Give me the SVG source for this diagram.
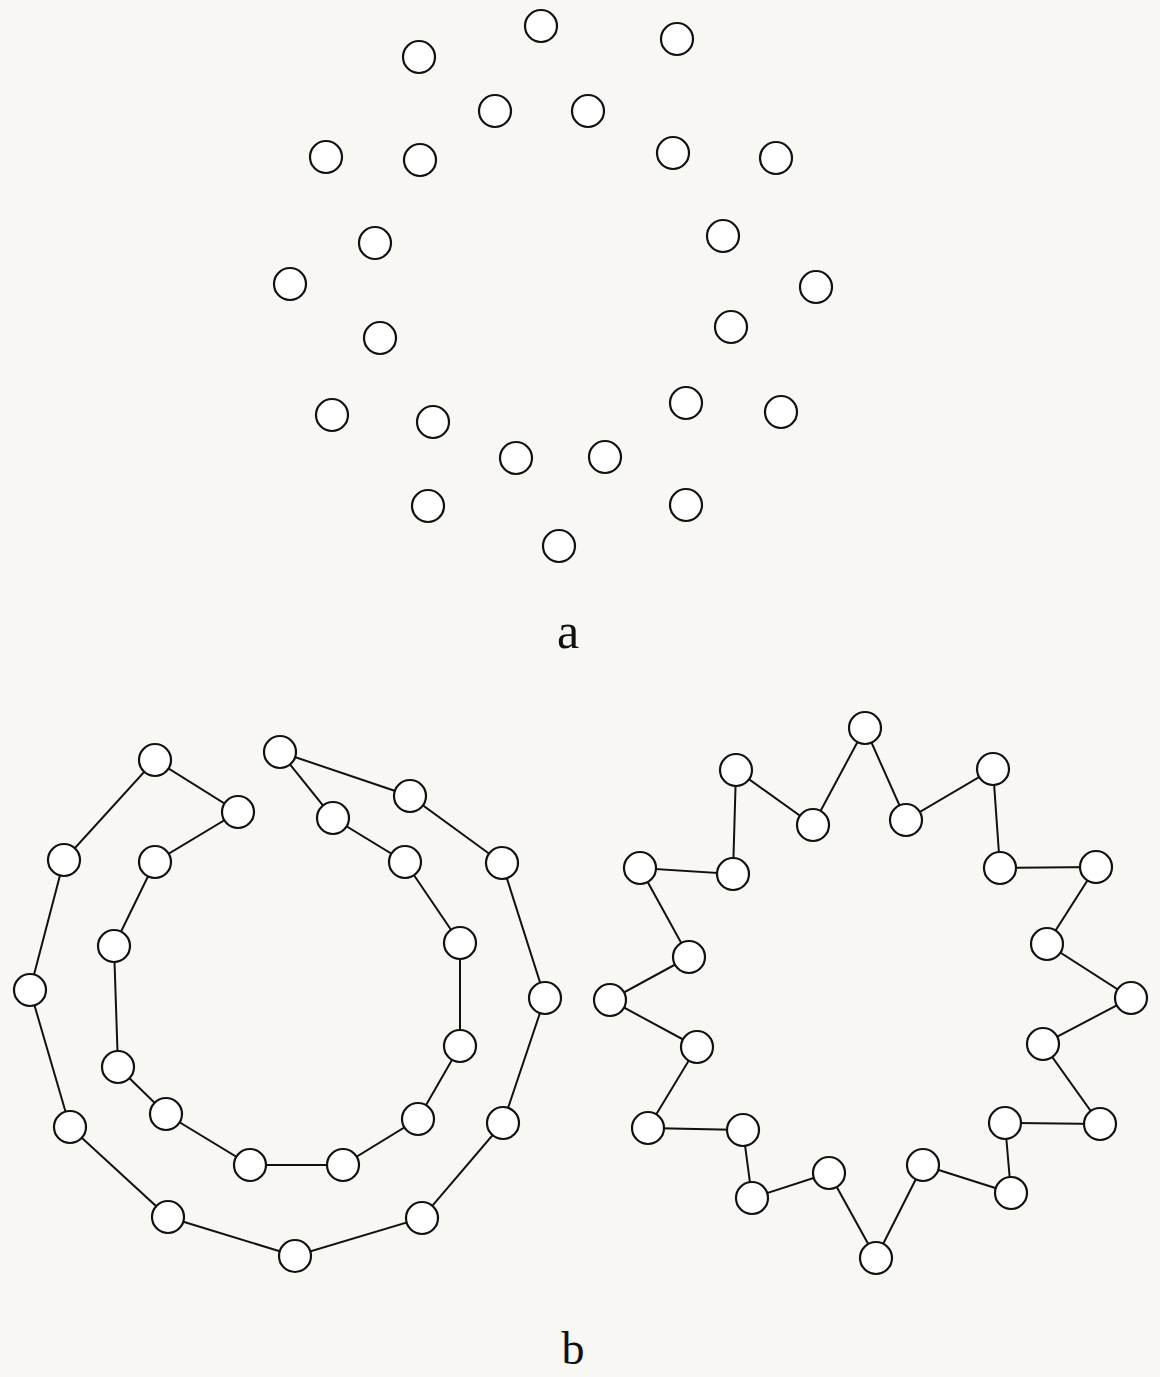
<svg xmlns="http://www.w3.org/2000/svg" width="1160" height="1377" viewBox="0 0 1160 1377">
<style>
.n{fill:#fff;stroke:#111;stroke-width:2.2}
.e{stroke:#111;stroke-width:2;fill:none}
.t{font-family:"Liberation Serif",serif;font-size:46px;fill:#111}
</style>
<rect width="1160" height="1377" fill="#f8f7f3"/>
<g id="part-a">
<circle id="a1" class="n" cx="541" cy="26" r="16"/>
<circle id="a2" class="n" cx="419" cy="57" r="16"/>
<circle id="a3" class="n" cx="677" cy="39" r="16"/>
<circle id="a4" class="n" cx="495" cy="111" r="16"/>
<circle id="a5" class="n" cx="588" cy="111" r="16"/>
<circle id="a6" class="n" cx="326" cy="157" r="16"/>
<circle id="a7" class="n" cx="420" cy="160" r="16"/>
<circle id="a8" class="n" cx="673" cy="153" r="16"/>
<circle id="a9" class="n" cx="776" cy="158" r="16"/>
<circle id="a10" class="n" cx="375" cy="243" r="16"/>
<circle id="a11" class="n" cx="723" cy="236" r="16"/>
<circle id="a12" class="n" cx="290" cy="284" r="16"/>
<circle id="a13" class="n" cx="816" cy="287" r="16"/>
<circle id="a14" class="n" cx="380" cy="338" r="16"/>
<circle id="a15" class="n" cx="731" cy="327" r="16"/>
<circle id="a16" class="n" cx="332" cy="415" r="16"/>
<circle id="a17" class="n" cx="433" cy="422" r="16"/>
<circle id="a18" class="n" cx="686" cy="403" r="16"/>
<circle id="a19" class="n" cx="781" cy="412" r="16"/>
<circle id="a20" class="n" cx="516" cy="458" r="16"/>
<circle id="a21" class="n" cx="605" cy="457" r="16"/>
<circle id="a22" class="n" cx="428" cy="506" r="16"/>
<circle id="a23" class="n" cx="686" cy="505" r="16"/>
<circle id="a24" class="n" cx="559" cy="546" r="16"/>
</g>
<text class="t" x="568" y="648" text-anchor="middle" style="font-size:50px">a</text>
<g id="connectors">
<polyline class="e" points="280,752 333,818 405,862 460,943 460,1046 418,1119 343,1165 250,1165 166,1114 118,1067 114,946 155,862 238,812 155,760 64,860 30,990 70,1127 168,1217 295,1256 422,1218 503,1123 545,998 502,863 410,796 280,752"/>
<polyline class="e" points="865,728 906,820 993,769 1000,868 1096,867 1047,944 1131,998 1043,1044 1100,1124 1005,1123 1011,1193 923,1165 876,1258 829,1173 752,1198 743,1130 648,1128 697,1047 610,1000 689,957 640,868 733,874 736,770 813,825 865,728"/>
</g>
<g id="spiral">
<circle id="s1" class="n" cx="280" cy="752" r="16"/>
<circle id="s2" class="n" cx="333" cy="818" r="16"/>
<circle id="s3" class="n" cx="405" cy="862" r="16"/>
<circle id="s4" class="n" cx="460" cy="943" r="16"/>
<circle id="s5" class="n" cx="460" cy="1046" r="16"/>
<circle id="s6" class="n" cx="418" cy="1119" r="16"/>
<circle id="s7" class="n" cx="343" cy="1165" r="16"/>
<circle id="s8" class="n" cx="250" cy="1165" r="16"/>
<circle id="s9" class="n" cx="166" cy="1114" r="16"/>
<circle id="s10" class="n" cx="118" cy="1067" r="16"/>
<circle id="s11" class="n" cx="114" cy="946" r="16"/>
<circle id="s12" class="n" cx="155" cy="862" r="16"/>
<circle id="s13" class="n" cx="238" cy="812" r="16"/>
<circle id="s14" class="n" cx="155" cy="760" r="16"/>
<circle id="s15" class="n" cx="64" cy="860" r="16"/>
<circle id="s16" class="n" cx="30" cy="990" r="16"/>
<circle id="s17" class="n" cx="70" cy="1127" r="16"/>
<circle id="s18" class="n" cx="168" cy="1217" r="16"/>
<circle id="s19" class="n" cx="295" cy="1256" r="16"/>
<circle id="s20" class="n" cx="422" cy="1218" r="16"/>
<circle id="s21" class="n" cx="503" cy="1123" r="16"/>
<circle id="s22" class="n" cx="545" cy="998" r="16"/>
<circle id="s23" class="n" cx="502" cy="863" r="16"/>
<circle id="s24" class="n" cx="410" cy="796" r="16"/>
</g>
<g id="star">
<circle id="r1" class="n" cx="865" cy="728" r="16"/>
<circle id="r2" class="n" cx="906" cy="820" r="16"/>
<circle id="r3" class="n" cx="993" cy="769" r="16"/>
<circle id="r4" class="n" cx="1000" cy="868" r="16"/>
<circle id="r5" class="n" cx="1096" cy="867" r="16"/>
<circle id="r6" class="n" cx="1047" cy="944" r="16"/>
<circle id="r7" class="n" cx="1131" cy="998" r="16"/>
<circle id="r8" class="n" cx="1043" cy="1044" r="16"/>
<circle id="r9" class="n" cx="1100" cy="1124" r="16"/>
<circle id="r10" class="n" cx="1005" cy="1123" r="16"/>
<circle id="r11" class="n" cx="1011" cy="1193" r="16"/>
<circle id="r12" class="n" cx="923" cy="1165" r="16"/>
<circle id="r13" class="n" cx="876" cy="1258" r="16"/>
<circle id="r14" class="n" cx="829" cy="1173" r="16"/>
<circle id="r15" class="n" cx="752" cy="1198" r="16"/>
<circle id="r16" class="n" cx="743" cy="1130" r="16"/>
<circle id="r17" class="n" cx="648" cy="1128" r="16"/>
<circle id="r18" class="n" cx="697" cy="1047" r="16"/>
<circle id="r19" class="n" cx="610" cy="1000" r="16"/>
<circle id="r20" class="n" cx="689" cy="957" r="16"/>
<circle id="r21" class="n" cx="640" cy="868" r="16"/>
<circle id="r22" class="n" cx="733" cy="874" r="16"/>
<circle id="r23" class="n" cx="736" cy="770" r="16"/>
<circle id="r24" class="n" cx="813" cy="825" r="16"/>
</g>
<text class="t" x="573" y="1364" text-anchor="middle">b</text>
</svg>
